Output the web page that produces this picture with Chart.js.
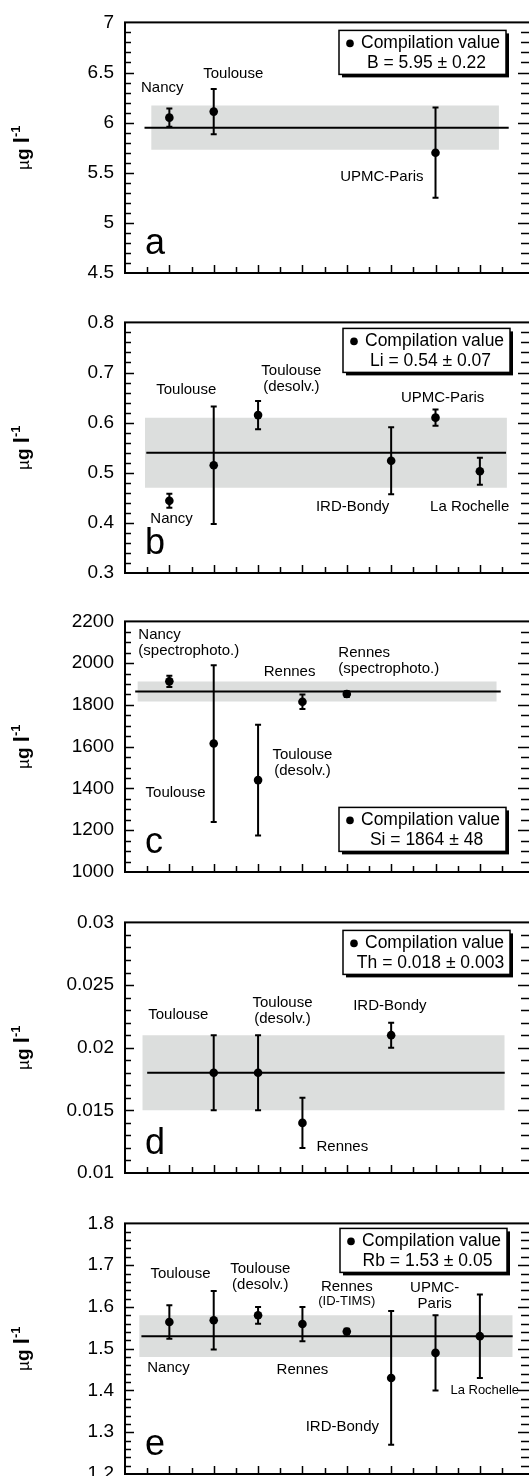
<!DOCTYPE html>
<html>
<head>
<meta charset="utf-8">
<script src="https://cdn.jsdelivr.net/npm/chart.js@4.4.1/dist/chart.umd.min.js"></script>
<style>
  body { margin: 0; background: #fff; }
  #wrap { position: relative; width: 529px; height: 1476px; overflow: hidden; }
  #wrap canvas { position: absolute; left: 0; }
</style>
</head>
<body>
<div id="wrap">
  <canvas id="p0" width="540" height="300" style="top:0px"></canvas>
  <canvas id="p1" width="540" height="300" style="top:300px"></canvas>
  <canvas id="p2" width="540" height="300" style="top:599px"></canvas>
  <canvas id="p3" width="540" height="300" style="top:900px"></canvas>
  <canvas id="p4" width="540" height="300" style="top:1201px"></canvas>
</div>
<script>
// Compilation values per element
const panelLetters = ["a", "b", "c", "d", "e"];
const elements = ["B", "Li", "Si", "Th", "Rb"];
const compMeans = [5.95, 0.54, 1864, 0.018, 1.53];
const compErrors = [0.22, 0.07, 48, 0.003, 0.05];

// y axis ranges and tick steps
const yMins = [4.5, 0.3, 1000, 0.01, 1.2];
const yMaxs = [7, 0.8, 2200, 0.03, 1.8];
const yMajorSteps = [0.5, 0.1, 200, 0.005, 0.1];
const yMinorSteps = [0.1, 0.02, 50, 0.001, 0.02];

// Lab results (x = lab slot 1..8)
const labsB = ["Nancy", "Toulouse", "UPMC-Paris"];
const slotsB = [1, 2, 7];
const valuesB = [6.05, 6.11, 5.7];
const errorsB = [0.09, 0.225, 0.45];

const labsLi = ["Nancy", "Toulouse", "Toulouse (desolv.)", "IRD-Bondy", "UPMC-Paris", "La Rochelle"];
const slotsLi = [1, 2, 3, 6, 7, 8];
const valuesLi = [0.444, 0.515, 0.615, 0.524, 0.61, 0.503];
const errorsLi = [0.014, 0.117, 0.028, 0.067, 0.016, 0.027];

const labsSi = ["Nancy (spectrophoto.)", "Toulouse", "Toulouse (desolv.)", "Rennes", "Rennes (spectrophoto.)"];
const slotsSi = [1, 2, 3, 4, 5];
const valuesSi = [1913, 1615, 1440, 1815, 1852];
const errorsSi = [27, 375, 265, 35, 14];

const labsTh = ["Toulouse", "Toulouse (desolv.)", "Rennes", "IRD-Bondy"];
const slotsTh = [2, 3, 4, 6];
const valuesTh = [0.018, 0.018, 0.014, 0.021];
const errorsTh = [0.003, 0.003, 0.002, 0.001];

const labsRb = ["Nancy", "Toulouse", "Toulouse (desolv.)", "Rennes", "Rennes (ID-TIMS)", "IRD-Bondy", "UPMC-Paris", "La Rochelle"];
const slotsRb = [1, 2, 3, 4, 5, 6, 7, 8];
const valuesRb = [1.564, 1.568, 1.58, 1.559, 1.541, 1.43, 1.49, 1.53];
const errorsRb = [0.04, 0.07, 0.02, 0.041, 0.007, 0.16, 0.09, 0.1];

// layout: extent of the grey band and the mean line (in slot units)
const bandSpan = [[0.59, 8.43], [0.45, 8.61], [0.28, 8.38], [0.39, 8.56], [0.32, 8.74]];
const lineSpan = [[0.44, 8.65], [0.48, 8.59], [0.23, 8.47], [0.5, 8.56], [0.37, 8.74]];
const legendLeft = [339, 343, 339, 343, 340];
const legendTop = [8, 6, 186, 8, 5];

// text labels: [text, x, y, align, size]
const notes = [
  [["Nancy", 0.84, 6.35], ["Toulouse", 2.44, 6.49], ["UPMC-Paris", 5.79, 5.46]],
  [["Toulouse", 1.38, 0.666], ["Toulouse\n(desolv.)", 3.75, 0.703], ["UPMC-Paris", 7.16, 0.65],
   ["Nancy", 1.05, 0.409], ["IRD-Bondy", 5.13, 0.432], ["La Rochelle", 7.77, 0.432]],
  [["Nancy\n(spectrophoto.)", 0.3, 2135, "left"], ["Rennes", 3.71, 1958],
   ["Rennes\n(spectrophoto.)", 4.81, 2051, "left"], ["Toulouse", 1.14, 1381], ["Toulouse\n(desolv.)", 4.0, 1563]],
  [["Toulouse", 1.2, 0.0226], ["Toulouse\n(desolv.)", 3.55, 0.0236], ["IRD-Bondy", 5.97, 0.0233], ["Rennes", 4.9, 0.0121]],
  [["Toulouse", 1.25, 1.678], ["Toulouse\n(desolv.)", 3.05, 1.692], ["Rennes", 5.0, 1.647],
   ["(ID-TIMS)", 5.0, 1.612, "center", 13], ["UPMC-\nParis", 6.98, 1.645], ["Nancy", 0.98, 1.453],
   ["Rennes", 4.0, 1.449], ["IRD-Bondy", 4.9, 1.312], ["La Rochelle", 8.11, 1.399, "center", 13]]
];

const FONT = "'Liberation Sans', Arial, Helvetica, sans-serif";

function fmt(v) {
  return String(+v.toFixed(4));
}

// draws error bars, frame, inward ticks, labels, legend box and titles
const decor = {
  id: "decor",
  afterDatasetsDraw(chart, args, opts) {
    const i = opts.idx;
    const ctx = chart.ctx;
    const xs = chart.scales.x;
    const ys = chart.scales.y;
    const a = chart.chartArea;
    const pts = chart.data.datasets[0];
    ctx.save();
    ctx.strokeStyle = "#000";
    ctx.fillStyle = "#000";

    // error bars
    ctx.lineWidth = 2;
    pts.data.forEach((p, k) => {
      const e = pts.errors[k];
      const px = xs.getPixelForValue(p.x);
      const top = ys.getPixelForValue(p.y + e);
      const bot = ys.getPixelForValue(p.y - e);
      ctx.beginPath();
      ctx.moveTo(px, top); ctx.lineTo(px, bot);
      ctx.moveTo(px - 3, top); ctx.lineTo(px + 3, top);
      ctx.moveTo(px - 3, bot); ctx.lineTo(px + 3, bot);
      ctx.stroke();
    });

    // inward ticks
    ctx.lineWidth = 1.5;
    const n = Math.round((yMaxs[i] - yMins[i]) / yMinorSteps[i]);
    ctx.beginPath();
    for (let k = 1; k < n; k++) {
      const v = yMins[i] + k * yMinorSteps[i];
      const r = v / yMajorSteps[i];
      const major = Math.abs(r - Math.round(r)) < 1e-6;
      const py = Math.round(ys.getPixelForValue(v)) + 0.5;
      ctx.moveTo(a.left, py); ctx.lineTo(a.left + (major ? 9 : 6), py);
      ctx.moveTo(a.right, py); ctx.lineTo(a.right - (major ? 12 : 9), py);
    }
    for (let x = 0.5; x <= 8.5; x += 0.5) {
      const px = Math.round(xs.getPixelForValue(x)) + 0.5;
      const major = x % 1 === 0;
      ctx.moveTo(px, a.bottom); ctx.lineTo(px, a.bottom - (major ? 8 : 6));
    }
    ctx.stroke();

    // frame
    ctx.lineWidth = 2;
    ctx.strokeRect(a.left, a.top, a.right - a.left, a.bottom - a.top);

    // text labels
    ctx.textBaseline = "middle";
    notes[i].forEach(nt => {
      const size = nt[4] || 15;
      ctx.font = size + "px " + FONT;
      ctx.textAlign = nt[3] || "center";
      const px = xs.getPixelForValue(nt[1]);
      const py = ys.getPixelForValue(nt[2]);
      nt[0].split("\n").forEach((line, j) => ctx.fillText(line, px, py + j * 16));
    });

    // legend box
    const bx = legendLeft[i], by = a.top + legendTop[i], bw = 167, bh = 44;
    ctx.fillRect(bx + 3, by + 3, bw, bh);
    ctx.fillStyle = "#fff";
    ctx.fillRect(bx, by, bw, bh);
    ctx.lineWidth = 1.5;
    ctx.strokeRect(bx, by, bw, bh);
    ctx.fillStyle = "#000";
    ctx.beginPath();
    ctx.arc(bx + 11, by + 13, 3.8, 0, Math.PI * 2);
    ctx.fill();
    ctx.font = "17.5px " + FONT;
    ctx.textAlign = "left";
    ctx.fillText("Compilation value", bx + 22, by + 13);
    ctx.textAlign = "center";
    ctx.fillText(elements[i] + " = " + fmt(compMeans[i]) + " \u00b1 " + fmt(compErrors[i]), bx + bw / 2 + 4, by + 33);

    // panel letter
    ctx.textAlign = "left";
    ctx.textBaseline = "alphabetic";
    ctx.font = "36px " + FONT;
    ctx.fillText(panelLetters[i], a.left + 20, a.bottom - 19);

    // y axis title: µg l-1, rotated
    ctx.translate(29, (a.top + a.bottom) / 2);
    ctx.rotate(-Math.PI / 2);
    const parts = [
      ["\u00b5", "17px " + FONT, 0],
      ["g ", "bold 19px " + FONT, 0],
      ["l", "bold 22px " + FONT, 0],
      ["-1", "bold 13px " + FONT, -9]
    ];
    let total = 0;
    parts.forEach(p => { ctx.font = p[1]; total += ctx.measureText(p[0]).width; });
    let u = -total / 2;
    parts.forEach(p => {
      ctx.font = p[1];
      ctx.fillText(p[0], u, p[2]);
      u += ctx.measureText(p[0]).width;
    });
    ctx.restore();
  }
};

function makePanel(i, slots, values, errors) {
  const m = compMeans[i], e = compErrors[i];
  new Chart(document.getElementById("p" + i), {
    type: "scatter",
    data: {
      datasets: [
        {
          data: slots.map((x, k) => ({ x: x, y: values[k] })),
          errors: errors,
          pointRadius: 4.3,
          pointHoverRadius: 4.3,
          backgroundColor: "#000",
          borderWidth: 0,
          order: 0
        },
        {
          data: [{ x: lineSpan[i][0], y: m }, { x: lineSpan[i][1], y: m }],
          showLine: true,
          borderColor: "#000",
          borderWidth: 2,
          pointRadius: 0,
          order: 1
        },
        {
          data: [{ x: bandSpan[i][0], y: m + e }, { x: bandSpan[i][1], y: m + e }],
          showLine: true,
          borderWidth: 0,
          pointRadius: 0,
          backgroundColor: "#dcdedd",
          fill: "+1",
          order: 2
        },
        {
          data: [{ x: bandSpan[i][0], y: m - e }, { x: bandSpan[i][1], y: m - e }],
          showLine: true,
          borderWidth: 0,
          pointRadius: 0,
          fill: false,
          order: 3
        }
      ]
    },
    options: {
      responsive: false,
      animation: false,
      events: [],
      layout: { padding: { top: 16, right: 10, bottom: 27, left: 0 } },
      plugins: {
        legend: { display: false },
        tooltip: { enabled: false },
        decor: { idx: i }
      },
      scales: {
        x: { type: "linear", min: 0, max: 9.13, display: false },
        y: {
          min: yMins[i],
          max: yMaxs[i],
          grid: { display: false, drawTicks: false },
          border: { display: false },
          ticks: {
            stepSize: yMajorSteps[i],
            padding: 11,
            color: "#000",
            font: { family: FONT, size: 19 },
            callback: function (value) {
              return fmt(value);
            }
          },
          afterFit: function (scale) {
            scale.width = 125;
          }
        }
      }
    },
    plugins: [decor]
  });
}

makePanel(0, slotsB, valuesB, errorsB);
makePanel(1, slotsLi, valuesLi, errorsLi);
makePanel(2, slotsSi, valuesSi, errorsSi);
makePanel(3, slotsTh, valuesTh, errorsTh);
makePanel(4, slotsRb, valuesRb, errorsRb);
</script>
</body>
</html>
